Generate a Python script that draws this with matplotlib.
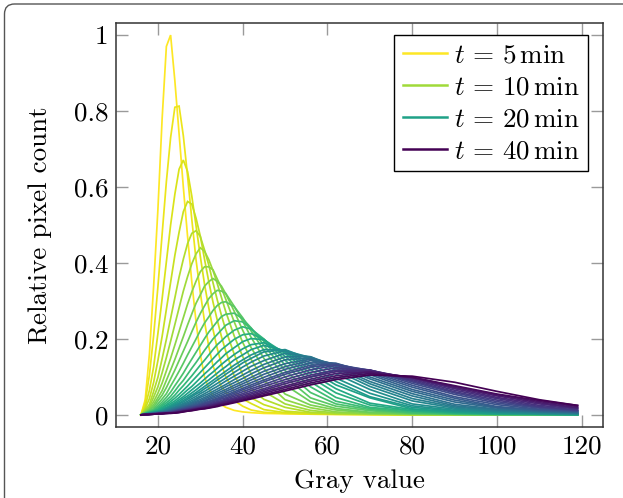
import matplotlib
matplotlib.use('Agg')
import matplotlib.pyplot as plt
from matplotlib.patches import FancyBboxPatch

# ---------------- data ----------------
gray_values = [16, 17, 18, 19, 20, 21, 22, 23, 24, 25, 26, 27, 28, 29, 30, 31, 32,
               33, 34, 35, 36, 38, 40, 42, 45, 50, 56, 62, 70, 80, 90, 100, 110, 119]

times = list(range(5, 41))  # minutes

counts_t05 = [0, 0.04, 0.16, 0.34, 0.54, 0.78, 0.97, 1.0, 0.88, 0.74, 0.6, 0.47, 0.35, 0.245, 0.16, 0.1, 0.07, 0.05, 0.035, 0.027, 0.02, 0.012, 0.008, 0.006, 0.004, 0.003, 0.002, 0.001, 0.001, 0, 0, 0, 0, 0]
counts_t06 = [0, 0.033, 0.105, 0.209, 0.337, 0.476, 0.614, 0.73, 0.81, 0.813, 0.735, 0.629, 0.515, 0.408, 0.323, 0.246, 0.18, 0.129, 0.1, 0.073, 0.06, 0.038, 0.023, 0.013, 0.007, 0.004, 0.002, 0.002, 0.001, 0, 0, 0, 0, 0]
counts_t07 = [0, 0.023, 0.065, 0.127, 0.214, 0.306, 0.403, 0.5, 0.581, 0.647, 0.671, 0.641, 0.576, 0.498, 0.418, 0.344, 0.282, 0.225, 0.175, 0.133, 0.101, 0.061, 0.042, 0.03, 0.014, 0.006, 0.003, 0.002, 0.001, 0.001, 0, 0, 0, 0]
counts_t08 = [0, 0.017, 0.043, 0.086, 0.143, 0.207, 0.278, 0.349, 0.42, 0.481, 0.535, 0.562, 0.555, 0.518, 0.471, 0.41, 0.351, 0.297, 0.25, 0.206, 0.168, 0.103, 0.068, 0.045, 0.027, 0.01, 0.005, 0.003, 0.002, 0.001, 0.001, 0, 0, 0]
counts_t09 = [0, 0.013, 0.028, 0.062, 0.099, 0.148, 0.199, 0.254, 0.308, 0.363, 0.41, 0.451, 0.478, 0.485, 0.47, 0.434, 0.395, 0.348, 0.303, 0.262, 0.224, 0.16, 0.106, 0.07, 0.041, 0.02, 0.007, 0.003, 0.002, 0.001, 0.001, 0, 0, 0]
counts_t10 = [0, 0.011, 0.021, 0.047, 0.074, 0.111, 0.151, 0.194, 0.238, 0.282, 0.326, 0.364, 0.398, 0.424, 0.44, 0.431, 0.409, 0.38, 0.346, 0.309, 0.272, 0.208, 0.154, 0.108, 0.062, 0.029, 0.012, 0.005, 0.003, 0.001, 0.001, 0, 0, 0]
counts_t11 = [0, 0.009, 0.017, 0.035, 0.057, 0.084, 0.116, 0.149, 0.184, 0.22, 0.256, 0.292, 0.324, 0.352, 0.377, 0.39, 0.39, 0.382, 0.358, 0.334, 0.305, 0.245, 0.191, 0.146, 0.091, 0.04, 0.019, 0.008, 0.003, 0.002, 0.001, 0.001, 0, 0]
counts_t12 = [0, 0.007, 0.014, 0.027, 0.045, 0.064, 0.091, 0.118, 0.146, 0.176, 0.206, 0.237, 0.266, 0.294, 0.316, 0.339, 0.351, 0.359, 0.352, 0.339, 0.319, 0.273, 0.223, 0.177, 0.123, 0.055, 0.026, 0.013, 0.005, 0.002, 0.001, 0.001, 0.001, 0]
counts_t13 = [0, 0.006, 0.012, 0.021, 0.037, 0.052, 0.072, 0.095, 0.118, 0.143, 0.168, 0.193, 0.219, 0.244, 0.267, 0.287, 0.306, 0.319, 0.328, 0.326, 0.32, 0.286, 0.247, 0.204, 0.149, 0.079, 0.035, 0.017, 0.007, 0.003, 0.002, 0.001, 0.001, 0.001]
counts_t14 = [0, 0.005, 0.01, 0.016, 0.029, 0.042, 0.056, 0.076, 0.095, 0.115, 0.136, 0.158, 0.179, 0.2, 0.222, 0.242, 0.258, 0.275, 0.288, 0.296, 0.298, 0.285, 0.256, 0.221, 0.17, 0.1, 0.045, 0.023, 0.011, 0.004, 0.002, 0.001, 0.001, 0.001]
counts_t15 = [0, 0.004, 0.009, 0.013, 0.023, 0.034, 0.046, 0.06, 0.077, 0.093, 0.11, 0.129, 0.147, 0.165, 0.183, 0.201, 0.218, 0.232, 0.246, 0.259, 0.265, 0.268, 0.253, 0.229, 0.183, 0.117, 0.059, 0.029, 0.014, 0.005, 0.002, 0.001, 0.001, 0.001]
counts_t16 = [0, 0.004, 0.008, 0.011, 0.019, 0.028, 0.038, 0.049, 0.063, 0.078, 0.091, 0.107, 0.123, 0.138, 0.154, 0.17, 0.185, 0.2, 0.212, 0.224, 0.236, 0.248, 0.245, 0.228, 0.194, 0.131, 0.074, 0.036, 0.017, 0.007, 0.003, 0.002, 0.001, 0.001]
counts_t17 = [0, 0.003, 0.006, 0.01, 0.015, 0.024, 0.032, 0.041, 0.052, 0.065, 0.077, 0.09, 0.103, 0.117, 0.131, 0.144, 0.158, 0.172, 0.185, 0.195, 0.206, 0.223, 0.232, 0.226, 0.2, 0.144, 0.087, 0.046, 0.02, 0.01, 0.004, 0.002, 0.001, 0.001]
counts_t18 = [0, 0.003, 0.006, 0.009, 0.013, 0.02, 0.027, 0.035, 0.044, 0.054, 0.065, 0.076, 0.088, 0.1, 0.112, 0.124, 0.136, 0.148, 0.16, 0.172, 0.181, 0.199, 0.211, 0.214, 0.199, 0.154, 0.099, 0.058, 0.026, 0.011, 0.005, 0.002, 0.002, 0.001]
counts_t19 = [0, 0.003, 0.005, 0.008, 0.01, 0.017, 0.024, 0.03, 0.037, 0.046, 0.056, 0.066, 0.075, 0.086, 0.097, 0.108, 0.118, 0.129, 0.14, 0.15, 0.161, 0.177, 0.193, 0.201, 0.198, 0.162, 0.109, 0.069, 0.031, 0.014, 0.007, 0.003, 0.002, 0.001]
counts_t20 = [0, 0.002, 0.005, 0.007, 0.009, 0.014, 0.02, 0.026, 0.032, 0.04, 0.048, 0.057, 0.066, 0.075, 0.084, 0.094, 0.104, 0.113, 0.123, 0.133, 0.142, 0.159, 0.174, 0.185, 0.19, 0.166, 0.119, 0.079, 0.045, 0.016, 0.008, 0.003, 0.002, 0.001]
counts_t21 = [0, 0.002, 0.004, 0.006, 0.008, 0.012, 0.018, 0.023, 0.029, 0.035, 0.043, 0.05, 0.058, 0.066, 0.075, 0.084, 0.092, 0.101, 0.11, 0.119, 0.127, 0.145, 0.158, 0.172, 0.183, 0.169, 0.128, 0.088, 0.048, 0.02, 0.01, 0.005, 0.003, 0.001]
counts_t22 = [0, 0.002, 0.004, 0.006, 0.008, 0.011, 0.016, 0.021, 0.026, 0.031, 0.038, 0.045, 0.052, 0.059, 0.067, 0.075, 0.083, 0.091, 0.099, 0.107, 0.115, 0.131, 0.145, 0.158, 0.172, 0.171, 0.136, 0.097, 0.057, 0.024, 0.012, 0.007, 0.003, 0.002]
counts_t23 = [0, 0.002, 0.004, 0.005, 0.007, 0.009, 0.014, 0.019, 0.024, 0.029, 0.034, 0.041, 0.048, 0.055, 0.061, 0.069, 0.076, 0.084, 0.092, 0.099, 0.107, 0.122, 0.137, 0.149, 0.166, 0.172, 0.146, 0.108, 0.067, 0.029, 0.015, 0.008, 0.004, 0.002]
counts_t24 = [0, 0.002, 0.003, 0.005, 0.007, 0.009, 0.013, 0.017, 0.021, 0.026, 0.03, 0.036, 0.043, 0.049, 0.056, 0.062, 0.069, 0.076, 0.083, 0.09, 0.097, 0.112, 0.126, 0.139, 0.155, 0.169, 0.151, 0.117, 0.075, 0.037, 0.018, 0.009, 0.006, 0.003]
counts_t25 = [0, 0.002, 0.003, 0.005, 0.006, 0.008, 0.011, 0.015, 0.019, 0.023, 0.028, 0.032, 0.038, 0.044, 0.05, 0.056, 0.062, 0.069, 0.075, 0.082, 0.089, 0.102, 0.115, 0.128, 0.143, 0.162, 0.153, 0.123, 0.082, 0.043, 0.021, 0.011, 0.007, 0.004]
counts_t26 = [0, 0.001, 0.003, 0.004, 0.006, 0.007, 0.01, 0.014, 0.018, 0.021, 0.025, 0.029, 0.034, 0.04, 0.046, 0.051, 0.056, 0.062, 0.068, 0.074, 0.08, 0.093, 0.105, 0.117, 0.133, 0.153, 0.153, 0.128, 0.088, 0.05, 0.024, 0.013, 0.008, 0.005]
counts_t27 = [0, 0.001, 0.003, 0.004, 0.005, 0.007, 0.009, 0.012, 0.016, 0.019, 0.023, 0.026, 0.031, 0.036, 0.041, 0.046, 0.051, 0.057, 0.062, 0.068, 0.074, 0.085, 0.096, 0.108, 0.124, 0.145, 0.15, 0.132, 0.095, 0.056, 0.028, 0.015, 0.009, 0.006]
counts_t28 = [0, 0.001, 0.003, 0.004, 0.005, 0.006, 0.008, 0.011, 0.014, 0.017, 0.021, 0.024, 0.028, 0.033, 0.037, 0.042, 0.047, 0.052, 0.057, 0.062, 0.067, 0.078, 0.088, 0.099, 0.115, 0.135, 0.147, 0.133, 0.1, 0.062, 0.034, 0.018, 0.01, 0.007]
counts_t29 = [0, 0.001, 0.002, 0.004, 0.005, 0.006, 0.007, 0.01, 0.013, 0.016, 0.019, 0.022, 0.025, 0.03, 0.034, 0.038, 0.043, 0.048, 0.052, 0.057, 0.062, 0.072, 0.082, 0.092, 0.107, 0.127, 0.143, 0.135, 0.106, 0.067, 0.039, 0.02, 0.012, 0.007]
counts_t30 = [0, 0.001, 0.002, 0.003, 0.004, 0.006, 0.007, 0.009, 0.012, 0.015, 0.018, 0.021, 0.024, 0.027, 0.031, 0.035, 0.04, 0.044, 0.048, 0.052, 0.057, 0.066, 0.076, 0.085, 0.099, 0.12, 0.137, 0.136, 0.11, 0.073, 0.044, 0.022, 0.013, 0.009]
counts_t31 = [0, 0.001, 0.002, 0.003, 0.004, 0.005, 0.006, 0.008, 0.011, 0.013, 0.016, 0.019, 0.022, 0.024, 0.028, 0.032, 0.036, 0.04, 0.044, 0.048, 0.052, 0.061, 0.07, 0.079, 0.092, 0.112, 0.131, 0.134, 0.114, 0.078, 0.048, 0.027, 0.015, 0.01]
counts_t32 = [0, 0.001, 0.002, 0.003, 0.004, 0.005, 0.006, 0.007, 0.01, 0.013, 0.015, 0.018, 0.02, 0.023, 0.026, 0.03, 0.034, 0.038, 0.041, 0.045, 0.049, 0.057, 0.066, 0.074, 0.087, 0.107, 0.126, 0.133, 0.117, 0.083, 0.054, 0.031, 0.018, 0.011]
counts_t33 = [0, 0.001, 0.002, 0.003, 0.004, 0.005, 0.006, 0.007, 0.009, 0.012, 0.014, 0.016, 0.019, 0.021, 0.024, 0.028, 0.031, 0.035, 0.038, 0.042, 0.045, 0.053, 0.061, 0.069, 0.08, 0.1, 0.119, 0.13, 0.118, 0.087, 0.058, 0.035, 0.02, 0.012]
counts_t34 = [0, 0.001, 0.002, 0.003, 0.004, 0.004, 0.005, 0.006, 0.008, 0.011, 0.013, 0.015, 0.017, 0.02, 0.022, 0.025, 0.028, 0.032, 0.035, 0.038, 0.042, 0.049, 0.056, 0.064, 0.075, 0.093, 0.112, 0.124, 0.118, 0.09, 0.061, 0.039, 0.022, 0.013]
counts_t35 = [0, 0.001, 0.002, 0.002, 0.003, 0.004, 0.005, 0.006, 0.008, 0.01, 0.012, 0.014, 0.016, 0.018, 0.02, 0.023, 0.026, 0.029, 0.032, 0.035, 0.039, 0.045, 0.052, 0.059, 0.069, 0.087, 0.105, 0.118, 0.118, 0.093, 0.065, 0.043, 0.025, 0.016]
counts_t36 = [0, 0.001, 0.002, 0.002, 0.003, 0.004, 0.005, 0.005, 0.007, 0.009, 0.011, 0.013, 0.015, 0.017, 0.019, 0.021, 0.024, 0.027, 0.03, 0.033, 0.036, 0.042, 0.048, 0.055, 0.065, 0.082, 0.1, 0.114, 0.117, 0.096, 0.069, 0.046, 0.029, 0.018]
counts_t37 = [0, 0.001, 0.002, 0.002, 0.003, 0.004, 0.005, 0.005, 0.006, 0.008, 0.01, 0.012, 0.014, 0.016, 0.018, 0.02, 0.022, 0.025, 0.028, 0.031, 0.034, 0.039, 0.045, 0.051, 0.061, 0.076, 0.094, 0.109, 0.114, 0.098, 0.072, 0.05, 0.032, 0.019]
counts_t38 = [0, 0.001, 0.001, 0.002, 0.003, 0.004, 0.004, 0.005, 0.006, 0.007, 0.009, 0.011, 0.013, 0.015, 0.017, 0.019, 0.02, 0.023, 0.026, 0.028, 0.031, 0.037, 0.042, 0.048, 0.057, 0.072, 0.089, 0.103, 0.113, 0.099, 0.075, 0.053, 0.035, 0.022]
counts_t39 = [0, 0.001, 0.001, 0.002, 0.003, 0.003, 0.004, 0.005, 0.005, 0.007, 0.009, 0.01, 0.012, 0.014, 0.016, 0.017, 0.019, 0.021, 0.024, 0.027, 0.029, 0.034, 0.039, 0.045, 0.053, 0.067, 0.084, 0.098, 0.109, 0.099, 0.077, 0.055, 0.038, 0.025]
counts_t40 = [0, 0.001, 0.001, 0.002, 0.003, 0.003, 0.004, 0.004, 0.005, 0.006, 0.008, 0.01, 0.011, 0.013, 0.015, 0.016, 0.018, 0.02, 0.022, 0.025, 0.027, 0.032, 0.037, 0.042, 0.05, 0.063, 0.079, 0.093, 0.105, 0.102, 0.086, 0.062, 0.04, 0.025]

curves = [counts_t05, counts_t06, counts_t07, counts_t08, counts_t09, counts_t10,
          counts_t11, counts_t12, counts_t13, counts_t14, counts_t15, counts_t16,
          counts_t17, counts_t18, counts_t19, counts_t20, counts_t21, counts_t22,
          counts_t23, counts_t24, counts_t25, counts_t26, counts_t27, counts_t28,
          counts_t29, counts_t30, counts_t31, counts_t32, counts_t33, counts_t34,
          counts_t35, counts_t36, counts_t37, counts_t38, counts_t39, counts_t40]

legend_times = [5, 10, 20, 40]
x_ticks = [20, 40, 60, 80, 100, 120]
y_ticks = [0, 0.2, 0.4, 0.6, 0.8, 1]
y_tick_labels = ['0', '0.2', '0.4', '0.6', '0.8', '1']

# ---------------- style ----------------
plt.rcParams['font.family'] = 'serif'
plt.rcParams['font.serif'] = ['cmr10', 'DejaVu Serif']
plt.rcParams['mathtext.fontset'] = 'cm'
plt.rcParams['axes.unicode_minus'] = False
plt.rcParams['axes.formatter.use_mathtext'] = True

FS = 19.5
W, H = 623, 498
fig = plt.figure(figsize=(W / 100, H / 100), dpi=100)
ax = fig.add_axes([115.5 / W, 1 - 426.7 / H, (603 - 115.5) / W, (426.7 - 23.3) / H])

cmap = plt.get_cmap('viridis')
t_min, t_max = min(times), max(times)
for t, y in zip(times, curves):
    color = cmap(1 - (t - t_min) / (t_max - t_min))
    label = rf'$t\, =\, {t}\,\mathrm{{min}}$' if t in legend_times else None
    ax.plot(gray_values, y, color=color, lw=1.25, label=label, solid_joinstyle='miter')

ax.set_xlim(10, 125)
ax.set_ylim(-0.031, 1.031)
ax.set_xticks(x_ticks)
ax.set_xticklabels([str(v) for v in x_ticks])
ax.set_yticks(y_ticks)
ax.set_yticklabels(y_tick_labels)

ax.tick_params(direction='in', length=8.5, width=1.0, color='#9a9a9a',
               top=True, right=True, labelsize=FS, labelcolor='black')
ax.tick_params(axis='x', pad=6)
ax.tick_params(axis='y', pad=5)
for sp in ax.spines.values():
    sp.set_color('#333333')
    sp.set_linewidth(1.1)

leg = ax.legend(loc='upper right', bbox_to_anchor=(588 / W, 1 - 35 / H),
                bbox_transform=fig.transFigure, borderaxespad=0, fontsize=FS,
                handlelength=1.65, handletextpad=0.25, labelspacing=0.3,
                borderpad=0.3, frameon=True, fancybox=False, framealpha=1,
                edgecolor='black')
leg.get_frame().set_linewidth(1.0)
for h in leg.legend_handles:
    h.set_linewidth(1.8)

fig.text(40 / W, 1 - 225 / H, 'Relative pixel count', rotation=90,
         ha='center', va='center', fontsize=FS)
fig.text(359 / W, 1 - 481 / H, 'Gray value', ha='center', va='center', fontsize=FS)

# rounded frame around the whole figure (clipped at right/bottom)
frame = FancyBboxPatch((0.045, -0.6), 7.0, (H / 100 - 0.04) + 0.6,
                       boxstyle='round,pad=0,rounding_size=0.1',
                       transform=fig.dpi_scale_trans, fill=False,
                       edgecolor='#555555', lw=1.0, clip_on=False)
fig.patches.append(frame)

fig.savefig('out.png', dpi=100)
